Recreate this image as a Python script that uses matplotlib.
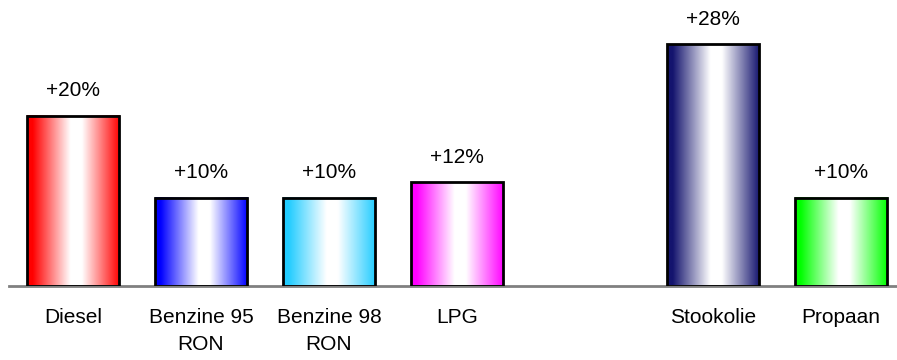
import numpy as np
import matplotlib.pyplot as plt
from matplotlib.colors import to_rgb

# Data (percent increase); empty slot between LPG and Stookolie
categories = ["Diesel", "Benzine 95\nRON", "Benzine 98\nRON", "LPG", "", "Stookolie", "Propaan"]
values = [19.7, 10.2, 10.2, 12.0, None, 28.0, 10.2]
colors = ["#FF0000", "#0000FF", "#22CCFF", "#FF00FF", None, "#14146E", "#00FF00"]

plt.rcParams['font.family'] = ['Liberation Sans', 'DejaVu Sans']

fig = plt.figure(figsize=(8.97, 3.60), dpi=100)
ax = fig.add_axes([9 / 897, 74 / 360, 896 / 897, 276.5 / 360])

x = np.arange(len(categories))
ax.set_xlim(-0.5, len(categories) - 0.5)
ax.set_ylim(0, 32)

# horizontal gradient: colour at the edges, white slightly right of centre
t = np.linspace(0, 1, 256)
w = np.clip(1 - np.abs(t - 0.53) / 0.47, 0, 1)
w = np.clip(w * 1.15, 0, 1)

for xi, v, c in zip(x, values, colors):
    if v is None:
        continue
    bar = ax.bar(xi, v, width=0.72, facecolor="none", edgecolor="black",
                 linewidth=2, zorder=3)[0]
    rgb = np.array(to_rgb(c))
    img = rgb[None, :] * (1 - w[:, None]) + w[:, None]
    x0, y0 = bar.get_x(), bar.get_y()
    ax.imshow(img[None, :, :], extent=[x0, x0 + bar.get_width(), y0, y0 + v],
              aspect="auto", zorder=2, interpolation="bilinear")
    ax.annotate(f"+{v:.0f}%", (xi, v), xytext=(0, 14), textcoords="offset points",
                ha="center", va="baseline", fontsize=15)

ax.set_xticks(x)
ax.set_xticklabels(categories, fontsize=15, linespacing=1.5)
ax.tick_params(axis="x", length=0, pad=16)
ax.set_yticks([])
for s in ["top", "right", "left"]:
    ax.spines[s].set_visible(False)
ax.spines["bottom"].set_color("#808080")
ax.spines["bottom"].set_linewidth(2)
ax.set_xlim(-0.5, len(categories) - 0.5)

fig.savefig("out.png", dpi=100)
